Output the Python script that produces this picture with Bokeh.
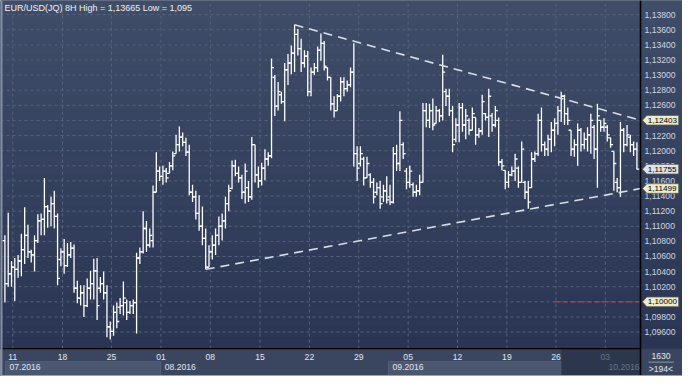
from bokeh.plotting import figure
from bokeh.models import Range1d
from bokeh.core.properties import value
from bokeh.embed import file_html
from bokeh.resources import INLINE

# ---------------- data (8H OHLC, EUR/USD) ----------------
opens = [
    1.1081, 1.1024, 1.1037, 1.1046, 1.1043, 1.1054, 1.1069, 1.1088, 1.1066, 1.1062,
    1.1081, 1.1107, 1.1109, 1.1126, 1.1120, 1.1130, 1.1113, 1.1056, 1.1066, 1.1048,
    1.1062, 1.1071, 1.1018, 1.1005, 1.1012, 1.0995, 1.1018, 1.1024, 1.1041, 1.1018,
    1.1024, 1.1012, 1.0967, 1.0961, 1.0986, 1.0993, 1.0995, 1.0999, 1.0986, 1.0995,
    1.0999, 1.1058, 1.1066, 1.1097, 1.1075, 1.1081, 1.1145, 1.1173, 1.1166, 1.1173,
    1.1170, 1.1180, 1.1196, 1.1208, 1.1218, 1.1211, 1.1198, 1.1145, 1.1139, 1.1117,
    1.1100, 1.1084, 1.1046, 1.1066, 1.1075, 1.1088, 1.1100, 1.1107, 1.1130, 1.1150,
    1.1180, 1.1170, 1.1164, 1.1145, 1.1151, 1.1139, 1.1208, 1.1168, 1.1160, 1.1177,
    1.1189, 1.1193, 1.1297, 1.1259, 1.1274, 1.1265, 1.1307, 1.1316, 1.1329, 1.1354,
    1.1335, 1.1316, 1.1325, 1.1278, 1.1304, 1.1310, 1.1333, 1.1342, 1.1310, 1.1297,
    1.1262, 1.1253, 1.1272, 1.1291, 1.1282, 1.1287, 1.1304, 1.1196, 1.1183, 1.1189,
    1.1164, 1.1168, 1.1158, 1.1145, 1.1151, 1.1139, 1.1147, 1.1139, 1.1132, 1.1196,
    1.1183, 1.1208, 1.1173, 1.1158, 1.1155, 1.1145, 1.1147, 1.1158, 1.1253, 1.1240,
    1.1253, 1.1236, 1.1253, 1.1246, 1.1278, 1.1272, 1.1253, 1.1215, 1.1234, 1.1257,
    1.1234, 1.1240, 1.1227, 1.1244, 1.1221, 1.1226, 1.1249, 1.1244, 1.1246, 1.1234,
    1.1240, 1.1185, 1.1174, 1.1158, 1.1168, 1.1173, 1.1177, 1.1158, 1.1158, 1.1145,
    1.1151, 1.1189, 1.1196, 1.1240, 1.1208, 1.1202, 1.1215, 1.1227, 1.1236, 1.1253,
    1.1272, 1.1249, 1.1227, 1.1202, 1.1208, 1.1227, 1.1208, 1.1215, 1.1221, 1.1231,
    1.1202, 1.1240, 1.1231, 1.1231, 1.1217, 1.1199, 1.1158, 1.1151, 1.1227, 1.1208,
    1.1218, 1.1208, 1.1202,
]
highs = [
    1.1088, 1.1118, 1.1054, 1.1058, 1.1062, 1.1090, 1.1125, 1.1102, 1.1069, 1.1088,
    1.1116, 1.1117, 1.1164, 1.1128, 1.1139, 1.1147, 1.1117, 1.1071, 1.1083, 1.1078,
    1.1079, 1.1076, 1.1028, 1.1022, 1.1022, 1.1031, 1.1041, 1.1057, 1.1058, 1.1033,
    1.1040, 1.1022, 1.0974, 1.0995, 1.0999, 1.1005, 1.1027, 1.1003, 1.1001, 1.1003,
    1.1065, 1.1072, 1.1120, 1.1107, 1.1097, 1.1154, 1.1198, 1.1179, 1.1180, 1.1177,
    1.1185, 1.1199, 1.1221, 1.1232, 1.1224, 1.1217, 1.1208, 1.1155, 1.1147, 1.1141,
    1.1126, 1.1097, 1.1075, 1.1088, 1.1097, 1.1113, 1.1117, 1.1139, 1.1155, 1.1187,
    1.1188, 1.1179, 1.1168, 1.1183, 1.1160, 1.1218, 1.1208, 1.1179, 1.1184, 1.1202,
    1.1198, 1.1322, 1.1300, 1.1291, 1.1278, 1.1316, 1.1328, 1.1339, 1.13665, 1.1361,
    1.1348, 1.1333, 1.1332, 1.1310, 1.1316, 1.1338, 1.1355, 1.1345, 1.1310, 1.1297,
    1.1272, 1.1275, 1.1297, 1.1297, 1.1293, 1.1310, 1.1342, 1.1206, 1.1206, 1.1192,
    1.1192, 1.1170, 1.1164, 1.1158, 1.1160, 1.1155, 1.1166, 1.1155, 1.1205, 1.1208,
    1.1252, 1.1211, 1.1177, 1.1180, 1.1158, 1.1155, 1.1168, 1.1263, 1.1263, 1.1262,
    1.1269, 1.1259, 1.1255, 1.1327, 1.1282, 1.1282, 1.1259, 1.1243, 1.1263, 1.1263,
    1.1255, 1.1243, 1.1257, 1.1244, 1.1230, 1.1274, 1.1250, 1.1282, 1.1250, 1.1259,
    1.1244, 1.1189, 1.1174, 1.1173, 1.1179, 1.1196, 1.1179, 1.1212, 1.1160, 1.1160,
    1.1198, 1.1199, 1.1249, 1.1257, 1.1212, 1.1221, 1.1238, 1.1243, 1.1259, 1.1278,
    1.1274, 1.1257, 1.1227, 1.1215, 1.1236, 1.1230, 1.1224, 1.1231, 1.1249, 1.1234,
    1.1262, 1.1240, 1.1243, 1.1234, 1.1217, 1.1199, 1.1164, 1.1238, 1.1230, 1.1234,
    1.1221, 1.1212, 1.1211,
]
lows = [
    1.0999, 1.1020, 1.1020, 1.1001, 1.1032, 1.1034, 1.1050, 1.1058, 1.1052, 1.1040,
    1.1078, 1.1088, 1.1088, 1.1098, 1.1100, 1.1097, 1.1022, 1.1047, 1.1037, 1.1046,
    1.1058, 1.1012, 1.0998, 1.0995, 1.0980, 1.0993, 1.1003, 1.1003, 1.0976, 1.1012,
    1.1003, 1.0953, 1.0950, 1.0955, 1.0965, 1.0984, 1.0982, 1.0976, 1.0984, 1.0984,
    1.0958, 1.1050, 1.1064, 1.1066, 1.1072, 1.1072, 1.1145, 1.1160, 1.1155, 1.1158,
    1.1170, 1.1174, 1.1196, 1.1199, 1.1206, 1.1193, 1.1141, 1.1132, 1.1109, 1.1094,
    1.1075, 1.1043, 1.1046, 1.1056, 1.1062, 1.1075, 1.1081, 1.1097, 1.1120, 1.1149,
    1.1166, 1.1158, 1.1136, 1.1130, 1.1132, 1.1135, 1.1158, 1.1151, 1.1154, 1.1161,
    1.1180, 1.1190, 1.1246, 1.1253, 1.1262, 1.1239, 1.1287, 1.1301, 1.1304, 1.1326,
    1.1304, 1.1310, 1.1272, 1.1272, 1.1300, 1.1304, 1.1319, 1.1306, 1.1293, 1.1253,
    1.1244, 1.1253, 1.1265, 1.1272, 1.1278, 1.1284, 1.1179, 1.1160, 1.1179, 1.1154,
    1.1164, 1.1151, 1.1130, 1.1141, 1.1123, 1.1132, 1.1130, 1.1128, 1.1130, 1.1173,
    1.1173, 1.1189, 1.1149, 1.1151, 1.1139, 1.1139, 1.1141, 1.1158, 1.1231, 1.1230,
    1.1227, 1.1236, 1.1238, 1.1240, 1.1259, 1.1246, 1.1198, 1.1211, 1.1211, 1.1225,
    1.1215, 1.1221, 1.1227, 1.1208, 1.1217, 1.1221, 1.1240, 1.1218, 1.1225, 1.1231,
    1.1180, 1.1174, 1.1149, 1.1151, 1.1166, 1.1160, 1.1151, 1.1158, 1.1136, 1.1123,
    1.1151, 1.1185, 1.1193, 1.1199, 1.1193, 1.1193, 1.1198, 1.1206, 1.1221, 1.1238,
    1.1234, 1.1234, 1.1193, 1.1192, 1.1180, 1.1199, 1.1202, 1.1199, 1.1196, 1.1189,
    1.1151, 1.1225, 1.1225, 1.1212, 1.1204, 1.1147, 1.1145, 1.1139, 1.1198, 1.1206,
    1.1198, 1.1193, 1.1175,
]
closes = [
    1.1024, 1.1037, 1.1046, 1.1043, 1.1054, 1.1069, 1.1088, 1.1066, 1.1062, 1.1081,
    1.1107, 1.1109, 1.1126, 1.1120, 1.1130, 1.1113, 1.1031, 1.1066, 1.1048, 1.1062,
    1.1071, 1.1018, 1.1005, 1.1012, 1.0995, 1.1018, 1.1024, 1.1041, 1.0995, 1.1024,
    1.1012, 1.0967, 1.0961, 1.0986, 1.0974, 1.0995, 1.1005, 1.0986, 1.0995, 1.0999,
    1.1058, 1.1066, 1.1097, 1.1075, 1.1088, 1.1145, 1.1173, 1.1166, 1.1173, 1.1164,
    1.1180, 1.1193, 1.1208, 1.1218, 1.1211, 1.1198, 1.1145, 1.1139, 1.1117, 1.1100,
    1.1084, 1.1046, 1.1066, 1.1075, 1.1088, 1.1100, 1.1107, 1.1130, 1.1147, 1.1180,
    1.1170, 1.1164, 1.1145, 1.1173, 1.1139, 1.1208, 1.1168, 1.1160, 1.1177, 1.1189,
    1.1193, 1.1310, 1.1259, 1.1278, 1.1265, 1.1307, 1.1316, 1.1329, 1.1354, 1.1335,
    1.1316, 1.1325, 1.1278, 1.1304, 1.1310, 1.1333, 1.1342, 1.1312, 1.1297, 1.1262,
    1.1253, 1.1272, 1.1291, 1.1282, 1.1287, 1.1304, 1.1196, 1.1177, 1.1196, 1.1164,
    1.1183, 1.1158, 1.1139, 1.1151, 1.1130, 1.1147, 1.1135, 1.1132, 1.1196, 1.1183,
    1.1240, 1.1196, 1.1158, 1.1173, 1.1145, 1.1147, 1.1158, 1.1253, 1.1240, 1.1253,
    1.1234, 1.1253, 1.1246, 1.1304, 1.1272, 1.1253, 1.1208, 1.1234, 1.1257, 1.1234,
    1.1246, 1.1227, 1.1249, 1.1221, 1.1226, 1.1265, 1.1244, 1.1272, 1.1234, 1.1253,
    1.1185, 1.1180, 1.1158, 1.1168, 1.1173, 1.1189, 1.1158, 1.1202, 1.1145, 1.1132,
    1.1189, 1.1196, 1.1240, 1.1208, 1.1202, 1.1215, 1.1227, 1.1236, 1.1253, 1.1272,
    1.1249, 1.1240, 1.1202, 1.1208, 1.1227, 1.1208, 1.1215, 1.1221, 1.1240, 1.1202,
    1.1246, 1.1231, 1.1236, 1.1221, 1.1208, 1.1183, 1.1151, 1.1227, 1.1208, 1.1221,
    1.1208, 1.1202, 1.11755,
]

price_ticks = [1.096, 1.098, 1.100, 1.102, 1.104, 1.106, 1.108, 1.110, 1.112, 1.114, 1.116,
               1.118, 1.120, 1.122, 1.124, 1.126, 1.128, 1.130, 1.132, 1.134, 1.136, 1.138]
week_pos = [2.4, 17.5, 32.4, 47.4, 62.4, 77.5, 92.5, 107.5, 122.5, 137.5, 152.5, 167.4, 182.4]
week_labels = ["11", "18", "25", "01", "08", "15", "22", "29", "05", "12", "19", "26", "03"]
month_start = [0.15, 47.3, 116.5, 167.4]
month_labels = ["07.2016", "08.2016", "09.2016", "10.2016"]

upper_x = [88, 193.09]
upper_y = [1.13665, 1.12403]
lower_x = [61, 193.09]
lower_y = [1.1043, 1.11499]
level_x = [167, 193.09]
level_y = [1.10000, 1.10000]
info_top = "1630"
info_bottom = ">194<"

# ---------------- layout (data units) ----------------
X_LEFT, X_RIGHT = -1.34, 205.85
Y_BOT, Y_TOP = 1.09012, 1.13987
X_SEP = 193.09
Y_STRIP = 1.09380
DARK_X0 = 169.04
WEEK_Y, MONTH_Y = 1.09272, 1.09133
BOX_TOP, BOX_BOT = 1.09209, 1.09025
X_LAB = 194.3
TIP, BODY_L, BODY_R, HALF_H = 193.7, 195.0, 204.7, 0.00064

FONT = value("Liberation Sans")
fmt = lambda v: f"{v:.5f}".replace(".", ",")

p = figure(width=682, height=376, x_range=Range1d(X_LEFT, X_RIGHT), y_range=Range1d(Y_BOT, Y_TOP),
           output_backend="svg", toolbar_location=None, x_axis_location=None, y_axis_location=None,
           min_border=0, min_border_left=0, min_border_right=0, min_border_top=0, min_border_bottom=0,
           outline_line_color=None, background_fill_color="#34415d", border_fill_color="#34415d")
p.grid.visible = False

# gradient background
n_bands = 32
top_rgb, bot_rgb = (0x40, 0x4d, 0x69), (0x29, 0x35, 0x52)
b_edges = [Y_STRIP + (Y_TOP - Y_STRIP) * k / n_bands for k in range(n_bands + 1)]
b_cols = []
for k in range(n_bands):
    t = (k + 0.5) / n_bands
    b_cols.append("#%02x%02x%02x" % tuple(round(b + (a - b) * t) for a, b in zip(top_rgb, bot_rgb)))
p.quad(left=X_LEFT, right=X_RIGHT, bottom=b_edges[:-1], top=b_edges[1:], fill_color=b_cols, line_color=b_cols)

# bottom date strip
p.quad(left=X_LEFT, right=X_RIGHT, bottom=Y_BOT, top=Y_STRIP, fill_color="#3a4660", line_color=None)
p.quad(left=[month_start[0], month_start[2]], right=[month_start[1], DARK_X0], bottom=BOX_BOT, top=BOX_TOP,
       fill_color="#4b5771", line_color="#56627a", line_width=0.8)
p.quad(left=DARK_X0, right=X_SEP, bottom=BOX_BOT, top=Y_STRIP, fill_color="#2c374e", line_color=None)

# grid
p.segment(x0=X_LEFT, y0=price_ticks, x1=X_SEP, y1=price_ticks, line_color="#56637e", line_dash="3 3", line_width=1)
p.segment(x0=week_pos, y0=Y_STRIP, x1=week_pos, y1=Y_TOP, line_color="#56637e", line_dash="3 3", line_width=1)

# OHLC bars
idx = list(range(len(closes)))
p.segment(x0=idx, y0=lows, x1=idx, y1=highs, line_color="#ffffff", line_width=1.3)
p.segment(x0=[i - 0.75 for i in idx], y0=opens, x1=idx, y1=opens, line_color="#ffffff", line_width=1.3)
p.segment(x0=idx, y0=closes, x1=[i + 0.75 for i in idx], y1=closes, line_color="#ffffff", line_width=1.3)

# trend lines and level
p.line(upper_x, upper_y, line_color="#d9dde6", line_dash="9 6", line_width=1.6)
p.line(lower_x, lower_y, line_color="#d9dde6", line_dash="9 6", line_width=1.6)
p.line(level_x, level_y, line_color="#c23c4c", line_dash="5 3", line_width=1.2)

# separators
p.line([X_LEFT, X_SEP], [Y_STRIP, Y_STRIP], line_color="#000000", line_width=1.3)
p.line([X_SEP, X_SEP], [Y_BOT, Y_TOP], line_color="#000000", line_width=1.6)

# price scale labels
p.text(x=X_LAB, y=price_ticks, text=[fmt(v) for v in price_ticks], text_font=FONT, text_font_size="8.6px",
       text_color="#d0d6e2", text_align="left", text_baseline="middle")

# price callouts
callout_vals = [upper_y[-1], closes[-1], lower_y[-1], level_y[-1]]
callout_fill = ["#eeeacc", "#dfe3ea", "#eeeacc", "#eeeacc"]
p.patches(xs=[[TIP, BODY_L, BODY_R, BODY_R, BODY_L] for _ in callout_vals],
          ys=[[v, v + HALF_H, v + HALF_H, v - HALF_H, v - HALF_H] for v in callout_vals],
          fill_color=callout_fill, line_color="#5c5c50", line_width=0.8)
p.text(x=BODY_L + 0.3, y=callout_vals, text=[fmt(v) for v in callout_vals], text_font=FONT,
       text_font_size="8.1px", text_color="#000000", text_align="left", text_baseline="middle")

# week labels
wk_in = [i for i, x in enumerate(week_pos) if x < DARK_X0]
wk_out = [i for i, x in enumerate(week_pos) if x >= DARK_X0]
p.text(x=[week_pos[i] for i in wk_in], y=WEEK_Y, text=[week_labels[i] for i in wk_in], text_font=FONT,
       text_font_size="8.6px", text_color="#e2e6ee", text_align="center", text_baseline="middle")
p.text(x=[week_pos[i] for i in wk_out], y=WEEK_Y, text=[week_labels[i] for i in wk_out], text_font=FONT,
       text_font_size="8.6px", text_color="#66728a", text_align="center", text_baseline="middle")

# month labels
p.text(x=[m + 1.25 for m in month_start[:-1]], y=MONTH_Y, text=month_labels[:-1], text_font=FONT,
       text_font_size="8.6px", text_color="#e2e6ee", text_align="left", text_baseline="middle")
p.text(x=[X_SEP - 0.3], y=MONTH_Y, text=month_labels[-1:], text_font=FONT,
       text_font_size="8.6px", text_color="#66728a", text_align="right", text_baseline="middle")

# bottom-right info
p.text(x=199.3, y=[1.09285, 1.09114], text=[info_top, info_bottom], text_font=FONT, text_font_size="8.6px",
       text_color="#e2e6ee", text_align="center", text_baseline="middle")
p.line([195.5, 203.2], [1.09202, 1.09202], line_color="#8d97a8", line_width=1)

# title
title = f"EUR/USD(JQ) 8H High = {fmt(max(highs)).rstrip('0')} Low = {fmt(min(lows)).rstrip('0')}"
p.text(x=-0.15, y=1.13891, text=[title], text_font=FONT, text_font_size="9px", text_color="#eef1f6",
       text_align="left", text_baseline="middle")

# widget border (left / bottom)
p.quad(left=X_LEFT, right=-0.74, bottom=Y_BOT, top=Y_TOP, fill_color="#8390a6", line_color=None)
p.quad(left=X_LEFT, right=X_RIGHT, bottom=Y_BOT, top=1.09031, fill_color="#98a2b4", line_color=None)

open("out.html", "w").write(file_html(p, INLINE))
